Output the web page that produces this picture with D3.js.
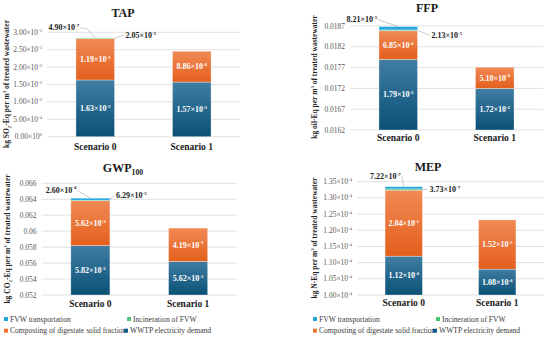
<!DOCTYPE html>
<html>
<head>
<meta charset="utf-8">
<title></title>
<script src="https://d3js.org/d3.v7.min.js"></script>
<style>
	body{ margin:0; background:#fff; }
	svg text{ font-family:"Liberation Serif","Times New Roman",Tinos,"DejaVu Serif",serif; }
	.tick-label{ font-size:7.5px; fill:#595959; }
	.cat{ font-size:9.5px; font-weight:bold; fill:#1a1a1a; }
	.title{ font-size:12px; font-weight:bold; fill:#1a1a1a; }
	.ytitle{ font-size:7.5px; font-weight:bold; fill:#262626; }
	.val{ font-size:8px; font-weight:bold; fill:#fff; }
	.call{ font-size:8px; font-weight:bold; fill:#1a1a1a; }
	.leg{ font-size:7.6px; fill:#404040; }
</style>
</head>
<body>
<svg width="550" height="341"></svg>
<script>
// ---- data ----
var categories = ['Scenario 0', 'Scenario 1'];
var series = ['WWTP electricity demand', 'Composting of digestate solid fraction', 'Incineration of FVW', 'FVW transportation'];
var legendOrder = ['FVW transportation', 'Incineration of FVW', 'Composting of digestate solid fraction', 'WWTP electricity demand'];

var tapWwtp = [1.63e-3, 1.57e-3];
var tapCompost = [1.19e-3, 8.86e-4];
var tapIncin = [2.05e-5, 0];
var tapTransport = [4.90e-7, 0];
var tapTicks = [0, 5e-4, 1e-3, 1.5e-3, 2e-3, 2.5e-3, 3e-3];

var ffpWwtp = [1.79e-2, 1.72e-2];
var ffpCompost = [6.85e-4, 5.10e-4];
var ffpIncin = [2.13e-5, 0];
var ffpTransport = [8.21e-5, 0];
var ffpTicks = [0.0162, 0.0167, 0.0172, 0.0177, 0.0182, 0.0187];

var gwpWwtp = [5.82e-2, 5.62e-2];
var gwpCompost = [5.62e-3, 4.19e-3];
var gwpIncin = [6.29e-5, 0];
var gwpTransport = [2.60e-4, 0];
var gwpTicks = [0.052, 0.054, 0.056, 0.058, 0.06, 0.062, 0.064, 0.066];

var mepWwtp = [1.12e-4, 1.08e-4];
var mepCompost = [2.04e-5, 1.52e-5];
var mepIncin = [3.73e-7, 0];
var mepTransport = [7.22e-7, 0];
var mepTicks = [1.00e-4, 1.05e-4, 1.10e-4, 1.15e-4, 1.20e-4, 1.25e-4, 1.30e-4, 1.35e-4];

var colors = {
	'WWTP electricity demand': ['#417da3', '#0a5176'],
	'Composting of digestate solid fraction': ['#f08a55', '#e45f1c'],
	'Incineration of FVW': ['#5fd585', '#3dba6b'],
	'FVW transportation': ['#34b2e8', '#1d9bd6']
};
var legendColors = {
	'FVW transportation': '#21a4de',
	'Incineration of FVW': '#47c874',
	'Composting of digestate solid fraction': '#ec7434',
	'WWTP electricity demand': '#115d85'
};

var svg = d3.select('svg');
var defs = svg.append('defs');
series.forEach(function(s, i){
	var g = defs.append('linearGradient').attr('id', 'g' + i)
		.attr('x1', 0).attr('y1', 0).attr('x2', 0).attr('y2', 1);
	g.append('stop').attr('offset', '0%').attr('stop-color', colors[s][0]);
	g.append('stop').attr('offset', '100%').attr('stop-color', colors[s][1]);
});

// write a number as m.mm x 10^e with a real superscript
function sci(text, v, fs){
	var e = v === 0 ? 0 : Math.floor(Math.log10(v) + 1e-9);
	var m = v / Math.pow(10, e);
	text.text(null);
	text.append('tspan').text(m.toFixed(2) + '×10');
	text.append('tspan').attr('dy', -fs * 0.4).style('font-size', (fs * 0.62) + 'px')
		.text(e === 0 ? '0' : '-' + Math.abs(e));
}

var panels = [
	{ title: [['TAP']], titleX: 123, titleY: 17, x: [47, 240], y: [136.7, 32.3], domain: [0, 0.003],
	  ticks: tapTicks, sciTicks: true, catY: 150, yTitle: [['kg SO'], ['2', 'sub'], ['-Eq per m'], ['3', 'sup'], [' of treated wastewater']],
	  yTitleX: 9, yTitleY: 84,
	  data: [tapWwtp, tapCompost, tapIncin, tapTransport],
	  left: { dx: -15, dy: -10, kx: -8, ky: -10 }, right: { dx: 11, dy: -3 } },
	{ title: [['FFP']], titleX: 427, titleY: 11.5, x: [350, 543], y: [130, 26], domain: [0.0162, 0.0187],
	  ticks: ffpTicks, sciTicks: false, catY: 141, yTitle: [['kg oil-Eq per m'], ['3', 'sup'], [' of treated wastewater']],
	  yTitleX: 317, yTitleY: 77,
	  data: [ffpWwtp, ffpCompost, ffpIncin, ffpTransport],
	  left: { dx: -20, dy: -7, kx: -18, ky: -7 }, right: { dx: 14, dy: 5 } },
	{ title: [['GWP'], ['100', 'sub']], titleX: 123, titleY: 172, x: [41.5, 237], y: [295, 183.3], domain: [0.052, 0.066],
	  ticks: gwpTicks, sciTicks: false, catY: 307, yTitle: [['kg CO'], ['2', 'sub'], ['-Eq per m'], ['3', 'sup'], [' of treated wastewater']],
	  yTitleX: 10, yTitleY: 239,
	  data: [gwpWwtp, gwpCompost, gwpIncin, gwpTransport],
	  left: { dx: -13, dy: -8, kx: -12, ky: -8 }, right: { dx: 6, dy: -5 } },
	{ title: [['MEP']], titleX: 428, titleY: 171, x: [357, 544], y: [295, 181.7], domain: [1.0e-4, 1.35e-4],
	  ticks: mepTicks, sciTicks: true, catY: 306, yTitle: [['kg N-Eq per m'], ['3', 'sup'], [' of treated wastewater']],
	  yTitleX: 317, yTitleY: 238,
	  data: [mepWwtp, mepCompost, mepIncin, mepTransport],
	  left: { dx: -2, dy: -10, kx: -1, ky: -6 }, right: { dx: 7, dy: 0 } }
];

// text with sub/superscript parts; the shift is undone on the next part
function richText(sel, parts, fs){
	var shift = 0;
	parts.forEach(function(p){
		var want = p[1] === 'sub' ? fs * 0.25 : (p[1] === 'sup' ? -fs * 0.35 : 0);
		var t = sel.append('tspan').text(p[0]);
		if (want - shift !== 0) t.attr('dy', want - shift);
		if (p[1]) t.style('font-size', (fs * 0.65) + 'px');
		shift = want;
	});
}

panels.forEach(function(p){
	var g = svg.append('g');
	var x = d3.scaleBand().domain(categories).range(p.x).paddingInner(0.6).paddingOuter(0.3);
	var y = d3.scaleLinear().domain(p.domain).range(p.y);

	// gridlines
	g.selectAll('.grid').data(p.ticks).enter().append('line')
		.attr('x1', p.x[0]).attr('x2', p.x[1])
		.attr('y1', function(d){ return y(d); }).attr('y2', function(d){ return y(d); })
		.attr('stroke', '#d9d9d9').attr('stroke-width', 0.8);

	// tick labels
	g.selectAll('.tick-label').data(p.ticks).enter().append('text')
		.attr('class', 'tick-label')
		.attr('x', p.x[0] - 5).attr('y', function(d){ return y(d) + 2.5; })
		.attr('text-anchor', 'end')
		.each(function(d){
			if (p.sciTicks) sci(d3.select(this), d, 7.5);
			else d3.select(this).text(String(+d.toFixed(4)));
		});

	// stacked bars
	var rows = categories.map(function(c, i){
		var r = { cat: c };
		series.forEach(function(s, k){ r[s] = p.data[k][i]; });
		return r;
	});
	var stack = d3.stack().keys(series)(rows);
	stack.forEach(function(layer, k){
		layer.forEach(function(seg){
			var base = Math.max(seg[0], p.domain[0]);
			var h = y(base) - y(seg[1]);
			if (h <= 0) return;
			g.append('rect')
				.attr('x', x(seg.data.cat)).attr('width', x.bandwidth())
				.attr('y', y(seg[1])).attr('height', h)
				.attr('fill', 'url(#g' + k + ')')
				.attr('stroke', 'rgba(255,255,255,0.55)').attr('stroke-width', 0.6);
			if (k < 2) {
				g.append('text').attr('class', 'val')
					.attr('x', x(seg.data.cat) + x.bandwidth() / 2)
					.attr('y', (y(base) + y(seg[1])) / 2 + 2.8)
					.attr('text-anchor', 'middle')
					.call(sci, seg[1] - seg[0], 8);
			}
		});
	});

	// callouts for the thin segments of Scenario 0
	var c0 = categories[0];
	var cx = x(c0) + x.bandwidth() / 2;
	var top = y(stack[3][0][1]);
	var right = x(c0) + x.bandwidth();
	var incMid = (y(stack[2][0][0]) + y(stack[2][0][1])) / 2;

	var lx = cx + p.left.dx, ly = top + p.left.dy;
	g.append('text').attr('class', 'call')
		.attr('x', lx - 1).attr('y', ly + 2.5).attr('text-anchor', 'end')
		.call(sci, p.data[3][0], 8);
	g.append('polyline')
		.attr('points', [[lx, ly], [cx + p.left.kx, top + p.left.ky + 1], [cx, top]].join(' '))
		.attr('fill', 'none').attr('stroke', '#a6a6a6').attr('stroke-width', 0.6);

	var rx = right + p.right.dx, ry = incMid + p.right.dy;
	g.append('line')
		.attr('x1', right).attr('y1', incMid).attr('x2', rx - 2).attr('y2', ry)
		.attr('stroke', '#a6a6a6').attr('stroke-width', 0.6);
	g.append('text').attr('class', 'call')
		.attr('x', rx).attr('y', ry + 2.5)
		.call(sci, p.data[2][0], 8);

	// category labels
	g.selectAll('.cat').data(categories).enter().append('text')
		.attr('class', 'cat')
		.attr('x', function(d){ return x(d) + x.bandwidth() / 2; })
		.attr('y', p.catY).attr('text-anchor', 'middle')
		.text(function(d){ return d; });

	// title
	var t = g.append('text').attr('class', 'title')
		.attr('x', p.titleX).attr('y', p.titleY).attr('text-anchor', 'middle');
	richText(t, p.title, 12);

	// y axis title
	var yt = g.append('text').attr('class', 'ytitle')
		.attr('transform', 'translate(' + p.yTitleX + ',' + p.yTitleY + ') rotate(-90)')
		.attr('text-anchor', 'middle');
	richText(yt, p.yTitle, 7.5);
});

// legends
[6, 315].forEach(function(lx0){
	var lg = svg.append('g');
	legendOrder.forEach(function(s, i){
		var col = i % 2, row = Math.floor(i / 2);
		var xx = lx0 + (col === 0 ? 0 : (row === 0 ? 123 : 120));
		var yy = 319 + row * 11.7;
		lg.append('rect').attr('x', xx - 2).attr('y', yy - 2).attr('width', 4).attr('height', 4)
			.attr('fill', legendColors[s]);
		lg.append('text').attr('class', 'leg').attr('x', xx + 4).attr('y', yy + 2.7).text(s);
	});
});
</script>
</body>
</html>
